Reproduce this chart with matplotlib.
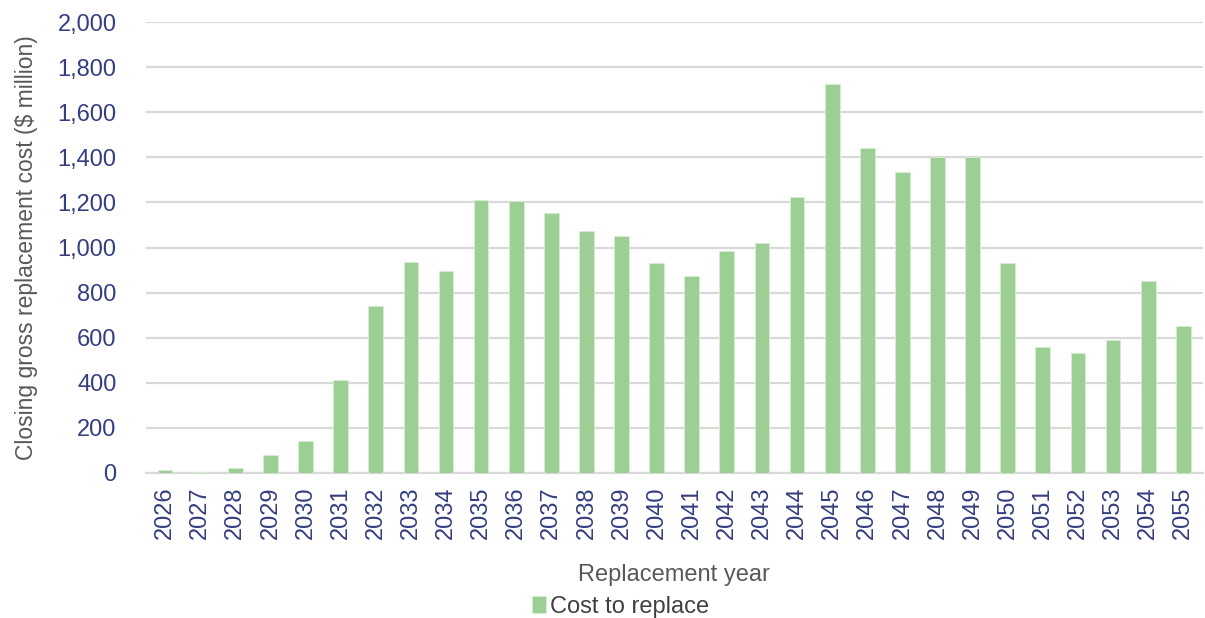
import matplotlib
matplotlib.use("Agg")
import matplotlib.pyplot as plt
from matplotlib.ticker import FuncFormatter

plt.rcParams['font.family'] = ['Liberation Sans', 'DejaVu Sans']

years = [str(y) for y in range(2026, 2056)]
cost = [12, 3, 22, 80, 142, 410, 740, 935, 895, 1210,
        1205, 1155, 1075, 1050, 930, 875, 985, 1020, 1225, 1725,
        1440, 1335, 1400, 1400, 930, 560, 530, 590, 850, 650]

tick_col = '#343E80'
label_col = '#595959'
bar_col = '#9BCF93'

fig = plt.figure(figsize=(12.05, 6.18), dpi=100)
ax = fig.add_axes([0.121, 0.235, 0.877, 0.729])

x = range(len(years))
ax.bar(x, cost, width=0.42, color=bar_col, edgecolor='#d8eed4', linewidth=0.6,
       label='Cost to replace', zorder=3)

ax.set_ylim(0, 2000)
ax.set_yticks(range(0, 2001, 200))
ax.yaxis.set_major_formatter(FuncFormatter(lambda v, p: f'{int(v):,}'))
ax.set_xlim(-0.55, len(years) - 0.45)
ax.set_xticks(list(x))
ax.set_xticklabels(years, rotation=90)

ax.grid(axis='y', color='#d9d9d9', linewidth=1.6, zorder=0)
for s in ['top', 'right', 'left']:
    ax.spines[s].set_visible(False)
ax.spines['bottom'].set_color('#d9d9d9')
ax.spines['bottom'].set_linewidth(1.6)
ax.tick_params(axis='both', length=0, colors=tick_col, labelsize=17)
ax.tick_params(axis='y', pad=21)
ax.tick_params(axis='x', pad=10)

ax.set_ylabel('Closing gross replacement cost ($ million)', color=label_col,
              fontsize=16.5, labelpad=14)
ax.set_xlabel('Replacement year', color=label_col, fontsize=17, labelpad=18)

# legend sits under the axis title, centred on the figure
handles, labels = ax.get_legend_handles_labels()
leg = fig.legend(handles, labels, loc='center', bbox_to_anchor=(0.515, 0.018),
                 frameon=False, fontsize=17, handlelength=0.6, handleheight=0.7,
                 handletextpad=0.15)
for t in leg.get_texts():
    t.set_color('#404040')

fig.savefig('out.png', dpi=100)
